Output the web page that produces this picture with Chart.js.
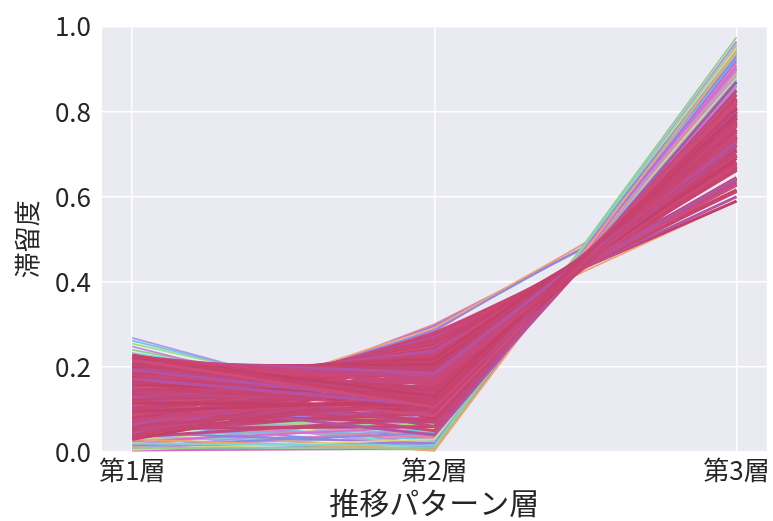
<!DOCTYPE html>
<html lang="ja">
<head>
<meta charset="utf-8">
<title>滞留度</title>
<script src="https://cdn.jsdelivr.net/npm/chart.js@4.4.1/dist/chart.umd.min.js"></script>
<style>
  html, body { margin: 0; padding: 0; background: #fff; }
  #wrap { width: 773px; height: 521px; }
</style>
</head>
<body>
<div id="wrap"><canvas id="chart" width="773" height="521"></canvas></div>
<script>
// layers on the x axis
const layerLabels = ['第1層', '第2層', '第3層'];
const yTicks = [0, 0.2, 0.4, 0.6, 0.8, 1.0];

// one row per pattern: [第1層, 第2層, 第3層]
// bulk of the patterns (drawn on top)
const mainLines = [
  [0.228, 0.112, 0.808], [0.225, 0.158, 0.742], [0.223, 0.131, 0.794], [0.220, 0.172, 0.718],
  [0.217, 0.106, 0.824], [0.215, 0.185, 0.730], [0.212, 0.143, 0.737], [0.209, 0.196, 0.729],
  [0.207, 0.121, 0.784], [0.204, 0.165, 0.770], [0.201, 0.205, 0.690], [0.199, 0.137, 0.778],
  [0.196, 0.180, 0.695], [0.193, 0.115, 0.805], [0.191, 0.212, 0.698], [0.188, 0.152, 0.768],
  [0.185, 0.190, 0.695], [0.183, 0.127, 0.773], [0.180, 0.218, 0.712], [0.177, 0.162, 0.708],
  [0.175, 0.200, 0.720], [0.172, 0.108, 0.797], [0.169, 0.225, 0.665], [0.167, 0.147, 0.758],
  [0.164, 0.183, 0.742], [0.161, 0.230, 0.675], [0.159, 0.134, 0.741], [0.156, 0.208, 0.707],
  [0.153, 0.170, 0.740], [0.151, 0.238, 0.642], [0.148, 0.118, 0.807], [0.145, 0.193, 0.707],
  [0.143, 0.242, 0.678], [0.140, 0.155, 0.730], [0.137, 0.221, 0.699], [0.135, 0.125, 0.785],
  [0.132, 0.247, 0.628], [0.129, 0.177, 0.733], [0.127, 0.233, 0.662], [0.124, 0.140, 0.775],
  [0.121, 0.252, 0.663], [0.119, 0.199, 0.671], [0.116, 0.110, 0.790], [0.113, 0.257, 0.633],
  [0.111, 0.168, 0.747], [0.108, 0.236, 0.669], [0.105, 0.261, 0.614], [0.103, 0.149, 0.771],
  [0.100, 0.215, 0.670], [0.097, 0.266, 0.629], [0.095, 0.122, 0.758], [0.092, 0.244, 0.666],
  [0.089, 0.187, 0.723], [0.087, 0.270, 0.600], [0.084, 0.160, 0.735], [0.081, 0.228, 0.682],
  [0.079, 0.274, 0.616], [0.076, 0.135, 0.770], [0.073, 0.250, 0.670], [0.071, 0.203, 0.672],
  [0.068, 0.278, 0.612], [0.065, 0.175, 0.740], [0.063, 0.240, 0.645], [0.060, 0.117, 0.788],
  [0.057, 0.263, 0.627], [0.055, 0.195, 0.720], [0.052, 0.280, 0.590], [0.049, 0.145, 0.765],
  [0.047, 0.255, 0.640], [0.044, 0.213, 0.697], [0.041, 0.128, 0.752], [0.039, 0.268, 0.637],
  [0.036, 0.182, 0.723], [0.033, 0.232, 0.643], [0.030, 0.157, 0.753],
  [0.180, 0.060, 0.850], [0.150, 0.085, 0.815], [0.120, 0.040, 0.870], [0.200, 0.095, 0.800],
  [0.090, 0.070, 0.830], [0.060, 0.090, 0.805], [0.140, 0.050, 0.840], [0.210, 0.080, 0.825],
  [0.045, 0.100, 0.800], [0.070, 0.112, 0.795], [0.095, 0.090, 0.810], [0.110, 0.075, 0.820],
  [0.055, 0.060, 0.830], [0.125, 0.105, 0.790], [0.080, 0.125, 0.785], [0.100, 0.100, 0.800],
  [0.035, 0.080, 0.810], [0.150, 0.105, 0.785], [0.065, 0.140, 0.775], [0.115, 0.130, 0.780]
];

// outlying patterns (drawn underneath)
const edgeLines = [
  [0.010, 0.010, 0.975], [0.020, 0.015, 0.960], [0.005, 0.030, 0.950], [0.030, 0.005, 0.940],
  [0.015, 0.045, 0.930], [0.045, 0.020, 0.920], [0.025, 0.060, 0.905], [0.060, 0.035, 0.895],
  [0.008, 0.075, 0.885], [0.040, 0.050, 0.875], [0.070, 0.065, 0.865], [0.018, 0.085, 0.855],
  [0.052, 0.090, 0.845], [0.035, 0.025, 0.935], [0.080, 0.055, 0.880], [0.012, 0.100, 0.830],
  [0.065, 0.012, 0.950], [0.090, 0.080, 0.860], [0.003, 0.008, 0.965], [0.028, 0.040, 0.915],
  [0.055, 0.070, 0.870], [0.075, 0.028, 0.925], [0.098, 0.045, 0.890], [0.006, 0.055, 0.900],
  [0.042, 0.095, 0.835], [0.085, 0.018, 0.945], [0.022, 0.068, 0.880], [0.050, 0.003, 0.955],
  [0.068, 0.100, 0.820], [0.033, 0.078, 0.865], [0.110, 0.030, 0.910], [0.014, 0.022, 0.945],
  [0.095, 0.008, 0.960], [0.038, 0.012, 0.950], [0.062, 0.052, 0.895], [0.016, 0.035, 0.925],
  [0.105, 0.065, 0.875], [0.048, 0.082, 0.860], [0.026, 0.092, 0.850], [0.078, 0.040, 0.905],
  [0.004, 0.018, 0.940], [0.058, 0.105, 0.835], [0.118, 0.015, 0.935], [0.088, 0.095, 0.845],
  [0.268, 0.075, 0.890], [0.262, 0.085, 0.870], [0.255, 0.095, 0.860], [0.248, 0.070, 0.900],
  [0.240, 0.110, 0.845], [0.233, 0.125, 0.830], [0.232, 0.090, 0.880],
  [0.060, 0.292, 0.690], [0.050, 0.288, 0.680], [0.040, 0.296, 0.670], [0.066, 0.284, 0.700],
  [0.030, 0.300, 0.660],
  [0.100, 0.060, 0.880], [0.140, 0.045, 0.900], [0.120, 0.095, 0.850], [0.160, 0.070, 0.870],
  [0.085, 0.110, 0.840], [0.190, 0.085, 0.865], [0.090, 0.275, 0.600], [0.110, 0.262, 0.590]
];

const mainColours = ['#c8426e', '#cc4676', '#c33f68', '#c04a84', '#cf4b79', '#b453a4', '#c8436f', '#c44572'];
const edgeColours = ['#8fd18a', '#7fd6d0', '#e7d27a', '#f0a36c', '#7f8fe6', '#a874e0',
                     '#d86bd0', '#e884a8', '#b09ae8', '#6cc7e8', '#9de08a', '#c77ee0'];

const toPoints = row => row.map((y, x) => ({ x: x, y: y }));

const datasets = [];
edgeLines.forEach((row, i) => {
  datasets.push({
    data: toPoints(row),
    borderColor: edgeColours[i % edgeColours.length],
    borderWidth: 1.8,
    order: 1
  });
});
mainLines.forEach((row, i) => {
  datasets.push({
    data: toPoints(row),
    borderColor: mainColours[i % mainColours.length],
    borderWidth: 3,
    order: 0
  });
});

// grey panel behind the plot, like seaborn's darkgrid
const panelBackground = {
  id: 'panelBackground',
  beforeDraw(chart) {
    const { ctx, chartArea: a } = chart;
    ctx.save();
    ctx.fillStyle = '#ffffff';
    ctx.fillRect(0, 0, chart.width, chart.height);
    ctx.fillStyle = '#eaeaf2';
    ctx.fillRect(a.left, a.top, a.right - a.left, a.bottom - a.top);
    ctx.restore();
  }
};

const font = 'Noto Sans CJK JP';
const textColour = '#262626';

new Chart(document.getElementById('chart'), {
  type: 'line',
  data: { datasets: datasets },
  plugins: [panelBackground],
  options: {
    responsive: false,
    animation: false,
    events: [],
    layout: { padding: { top: 25, right: 6, left: 0, bottom: 0 } },
    elements: {
      point: { radius: 0 },
      line: { tension: 0, borderCapStyle: 'butt', fill: false }
    },
    plugins: { legend: { display: false }, tooltip: { enabled: false } },
    scales: {
      x: {
        type: 'linear',
        min: -0.1,
        max: 2.1,
        afterBuildTicks: s => { s.ticks = layerLabels.map((_, i) => ({ value: i })); },
        afterFit: s => { s.height = 69; },
        border: { display: false },
        grid: { color: '#ffffff', lineWidth: 1.5, drawTicks: false },
        ticks: {
          padding: 3,
          color: textColour,
          font: { family: font, size: 26 },
          maxRotation: 0,
          callback: v => layerLabels[v]
        },
        title: {
          display: true,
          text: '推移パターン層',
          color: textColour,
          font: { family: font, size: 30 },
          padding: { top: 0, bottom: 0 }
        }
      },
      y: {
        type: 'linear',
        min: 0,
        max: 1,
        afterBuildTicks: s => { s.ticks = yTicks.map(v => ({ value: v })); },
        afterFit: s => { s.width = 102; },
        border: { display: false },
        grid: { color: '#ffffff', lineWidth: 1.5, drawTicks: false },
        ticks: {
          padding: 11,
          color: textColour,
          font: { family: font, size: 26 },
          callback: v => v.toFixed(1)
        },
        title: {
          display: true,
          text: '滞留度',
          color: textColour,
          font: { family: font, size: 26 },
          padding: { top: 12, bottom: 0 }
        }
      }
    }
  }
});
</script>
</body>
</html>
